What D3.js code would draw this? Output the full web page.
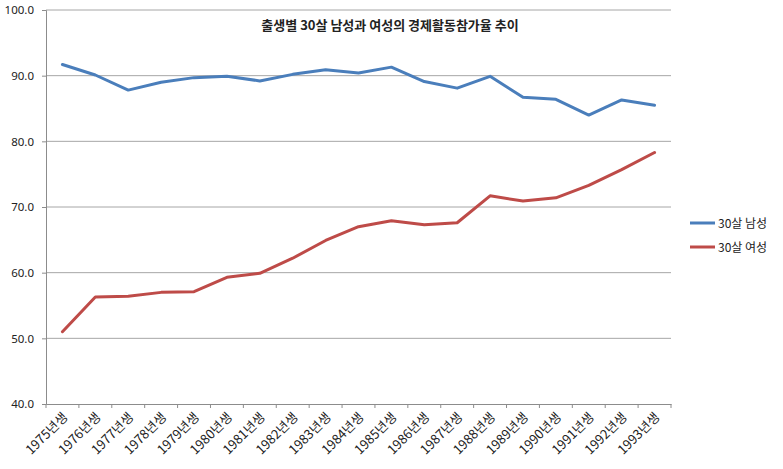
<!DOCTYPE html>
<html><head><meta charset="utf-8">
<script src="https://cdn.jsdelivr.net/npm/d3@7/dist/d3.min.js"></script>
<style>body{margin:0;background:#fff}svg{display:block}text{font-family:"Noto Sans CJK KR","Malgun Gothic",sans-serif}</style>
</head><body><svg id="c" width="783" height="469"></svg>
<script>
const categories = ["1975년생","1976년생","1977년생","1978년생","1979년생","1980년생","1981년생","1982년생","1983년생","1984년생","1985년생","1986년생","1987년생","1988년생","1989년생","1990년생","1991년생","1992년생","1993년생"];
const maleValues = [91.7,90.1,87.8,89.0,89.7,89.9,89.2,90.2,90.9,90.4,91.3,89.1,88.1,89.9,86.7,86.4,84.0,86.3,85.5];
const femaleValues = [51.0,56.3,56.4,57.0,57.1,59.3,59.9,62.2,64.9,67.0,67.9,67.3,67.6,71.7,70.9,71.4,73.3,75.7,78.3];
const seriesNames = ["30살 남성","30살 여성"];
const yTicks = [40,50,60,70,80,90,100];
const title = "출생별 30살 남성과 여성의 경제활동참가율 추이";

const svg = d3.select("#c");
const L = 46, R = 671, T = 10, B = 404;
const x = d3.scaleBand().domain(categories).range([L, R]);
const y = d3.scaleLinear().domain([40, 100]).range([B, T]);

// gridlines
svg.append("g").selectAll("line").data(yTicks.filter(d => d > 40)).join("line")
  .attr("x1", L).attr("x2", R).attr("y1", d => y(d)).attr("y2", d => y(d))
  .attr("stroke", "#a6a6a6").attr("stroke-width", 1);

// y axis
const ya = svg.append("g").attr("transform", `translate(${L},0)`)
  .call(d3.axisLeft(y).tickValues(yTicks).tickFormat(d3.format(".1f")).tickSize(4).tickPadding(8));
ya.select(".domain").attr("stroke", "#8c8c8c");
ya.selectAll(".tick line").attr("stroke", "#8c8c8c");
ya.selectAll("text").attr("font-size", 11.5).attr("fill", "#222").style("font-family", "'Noto Sans','DejaVu Sans',sans-serif");

// x axis
const xa = svg.append("g").attr("transform", `translate(0,${B})`)
  .call(d3.axisBottom(x).tickSize(0).tickPadding(0));
xa.select(".domain").attr("stroke", "#8c8c8c");
xa.selectAll(".tick line").remove();
// category separator ticks
svg.append("g").selectAll("line").data(categories.concat(["_end"])).join("line")
  .attr("x1", (d, i) => L + i * x.step()).attr("x2", (d, i) => L + i * x.step())
  .attr("y1", B).attr("y2", B + 4).attr("stroke", "#8c8c8c");
xa.selectAll(".tick text")
  .attr("font-size", 13).attr("fill", "#222")
  .attr("text-anchor", "end").attr("dy", 0).attr("y", 0)
  .attr("transform", "translate(6,14) rotate(-45)");

// lines
const line = d3.line().x((d, i) => x(categories[i]) + x.bandwidth() / 2).y(d => y(d));
const colors = ["#4a7ebb", "#be4b48"];
[maleValues, femaleValues].forEach((vals, k) => {
  svg.append("path").datum(vals).attr("d", line)
    .attr("fill", "none").attr("stroke", colors[k]).attr("stroke-width", 3)
    .attr("stroke-linejoin", "round").attr("stroke-linecap", "round");
});

// title
svg.append("text").attr("x", 390).attr("y", 30).attr("text-anchor", "middle")
  .attr("font-size", 13).attr("font-weight", "bold").attr("fill", "#222").text(title);

// legend
seriesNames.forEach((n, k) => {
  const ly = 223 + k * 24;
  svg.append("line").attr("x1", 690).attr("x2", 715).attr("y1", ly).attr("y2", ly)
    .attr("stroke", colors[k]).attr("stroke-width", 3);
  svg.append("text").attr("x", 718).attr("y", ly + 4.5).attr("font-size", 12)
    .attr("fill", "#222").text(n);
});
</script></body></html>
